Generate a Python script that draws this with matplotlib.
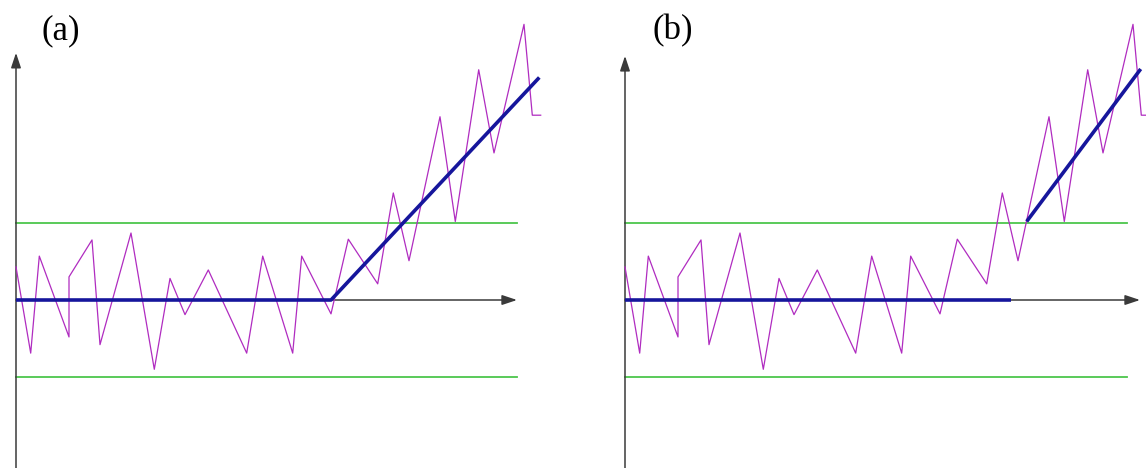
import matplotlib
matplotlib.use("Agg")
import matplotlib.pyplot as plt

# Shared noisy signal (same in both panels)
sig_x = [0, 1.47, 2.33, 5.3, 5.3, 7.6, 8.4, 11.5, 13.83, 15.4, 16.9, 19.23,
         23.07, 24.67, 27.67, 28.57, 31.5, 33.23, 36.17, 37.73, 39.3, 42.4,
         43.93, 46.27, 47.8, 50.8, 51.63, 52.47]
sig_y = [0.43, -0.69, 0.57, -0.48, 0.30, 0.78, -0.58, 0.87, -0.90, 0.28, -0.19, 0.39,
         -0.69, 0.57, -0.69, 0.57, -0.18, 0.79, 0.21, 1.39, 0.51, 2.38,
         1.02, 2.99, 1.91, 3.58, 2.40, 2.40]

# Fitted trend, panel (a): one continuous piecewise line
fit_a_x = [0, 31.5, 52.33]
fit_a_y = [0, 0, 2.89]

# Fitted trend, panel (b): flat part, then a separate jump segment
fit_b_flat_x = [0, 38.57]
fit_b_flat_y = [0, 0]
fit_b_jump_x = [40.17, 51.57]
fit_b_jump_y = [1.02, 3.0]

# Threshold band
band = [1.0, -1.0]
band_end = [50.1, 50.2]

labels = ["(a)", "(b)"]
xaxis_tip = [50.1, 51.5]
yaxis_tip = [3.21, 3.17]

MAGENTA = "#b02cc0"
BLUE = "#16169c"
GREEN = "#4cc64c"
AXIS = "#3a3a3a"

fig = plt.figure(figsize=(11.46, 4.68), dpi=100)

# panel placement: (left px, origin px)
panels = [(0, 16), (573, 625)]
px_per_x = 10.0
px_per_y = 77.0

for i, (left, origin) in enumerate(panels):
    ax = fig.add_axes([left / 1146, 0, 573 / 1146, 1])
    ax.set_xlim((left - origin) / px_per_x, (left + 573 - origin) / px_per_x)
    ax.set_ylim(-168 / px_per_y, 300 / px_per_y)
    ax.axis("off")

    # axes with arrows
    ax.annotate("", xy=(xaxis_tip[i], 0), xytext=(0, 0),
                arrowprops=dict(arrowstyle="-|>,head_length=0.9,head_width=0.3",
                                color=AXIS, lw=1.1, shrinkA=0, shrinkB=0))
    ax.annotate("", xy=(0, yaxis_tip[i]), xytext=(0, -2.4),
                arrowprops=dict(arrowstyle="-|>,head_length=0.9,head_width=0.3",
                                color=AXIS, lw=1.1, shrinkA=0, shrinkB=0),
                annotation_clip=False)

    for b in band:
        ax.plot([0, band_end[i]], [b, b], color=GREEN, lw=1.3, zorder=2)

    ax.plot(sig_x, sig_y, color=MAGENTA, lw=0.9, zorder=3, clip_on=False)

    if i == 0:
        ax.plot(fit_a_x, fit_a_y, color=BLUE, lw=2.6, zorder=4,
                solid_capstyle="butt")
    else:
        ax.plot(fit_b_flat_x, fit_b_flat_y, color=BLUE, lw=2.6, zorder=4,
                solid_capstyle="butt")
        ax.plot(fit_b_jump_x, fit_b_jump_y, color=BLUE, lw=2.6, zorder=4,
                solid_capstyle="butt")

label_pos = [61, 673]
for lab, px in zip(labels, label_pos):
    fig.text(px / 1146, 1 - 31 / 468, lab, ha="center", va="center",
             fontsize=25, family="Liberation Serif")

fig.savefig("out.png", dpi=100)
